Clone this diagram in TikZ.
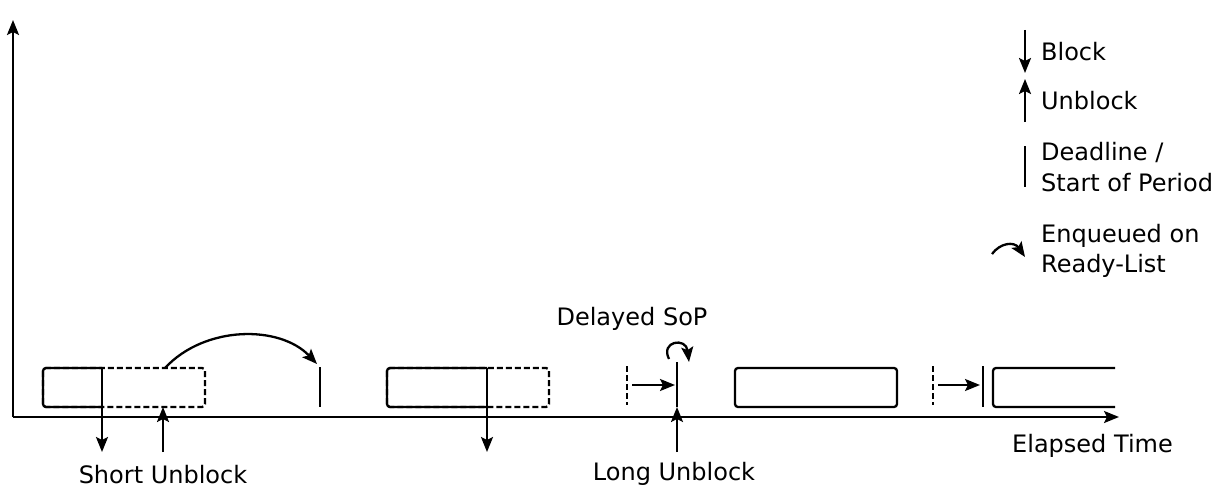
\documentclass[tikz,border=0pt]{standalone}
\usepackage{fontspec}
\setmainfont{DejaVu Sans}
\usetikzlibrary{arrows.meta}
\begin{document}
\begin{tikzpicture}[x=1pt,y=-1pt,
  line width=2.3pt,
  tip/.style={-{Stealth[length=15pt,width=12pt,inset=3pt]}},
  job/.style={rounded corners=3pt},
  slack/.style={rounded corners=3pt,dashed,dash pattern=on 6pt off 3pt},
  lbl/.style={font=\fontsize{24}{29}\selectfont,inner sep=0pt,anchor=base west},
  lblc/.style={font=\fontsize{24}{29}\selectfont,inner sep=0pt,anchor=base}]
\useasboundingbox (0,0) rectangle (1218,487);

% axes
\coordinate (origin) at (13,417);
\coordinate (ytop) at (13,20);
\coordinate (xend) at (1119,417);
\draw[tip] (origin) -- (ytop);
\draw[tip] (origin) -- (xend);
\node[lbl] (elapsed) at (1011,452) {Elapsed Time};

% first job: blocked early, unblocked shortly after
\draw[slack] (43,368) rectangle (205,407);
\draw[job] (102,368) -- (43,368) -- (43,407) -- (102,407);
\coordinate (b1a) at (102,368);
\coordinate (b1b) at (102,452);
\draw[tip] (b1a) -- (b1b);
\coordinate (u1a) at (163,452);
\coordinate (u1b) at (163,407);
\draw[tip] (u1a) -- (u1b);
\node[lblc] (shortub) at (163,483) {Short Unblock};

% re-enqueued until the next period
\coordinate (enqA) at (165,368);
\coordinate (enqB) at (317,364);
\draw[tip] (enqA) .. controls (205,325) and (280,325) .. (enqB);
\coordinate (dl1a) at (320,367);
\coordinate (dl1b) at (320,407);
\draw (dl1a) -- (dl1b);

% second job: blocked
\draw[slack] (387,368) rectangle (549,407);
\draw[job] (487,368) -- (387,368) -- (387,407) -- (487,407);
\coordinate (b2a) at (487,368);
\coordinate (b2b) at (487,452);
\draw[tip] (b2a) -- (b2b);

% long unblock with delayed start of period
\coordinate (d1a) at (627,366);
\coordinate (d1b) at (627,405);
\draw[dashed,dash pattern=on 6pt off 3pt] (d1a) -- (d1b);
\coordinate (s1a) at (632,385);
\coordinate (s1b) at (675,385);
\draw[tip] (s1a) -- (s1b);
\coordinate (sop1a) at (677,362);
\coordinate (sop1b) at (677,407);
\draw (sop1a) -- (sop1b);
\coordinate (u2a) at (677,452);
\coordinate (u2b) at (677,407);
\draw[tip] (u2a) -- (u2b);
\node[lblc] (longub) at (674,480) {Long Unblock};
\node[lblc] (delayed) at (632,325) {Delayed SoP};
\coordinate (loopA) at (669,359);
\coordinate (loopB) at (689,362);
\draw[tip] (loopA) .. controls (660,341) and (686,337) .. (loopB);

% third job
\draw[job] (735,368) rectangle (897,407);

% delayed start of the next period
\coordinate (d2a) at (933,366);
\coordinate (d2b) at (933,405);
\draw[dashed,dash pattern=on 6pt off 3pt] (d2a) -- (d2b);
\coordinate (s2a) at (938,385);
\coordinate (s2b) at (980,385);
\draw[tip] (s2a) -- (s2b);
\coordinate (sop2a) at (983,366);
\coordinate (sop2b) at (983,407);
\draw (sop2a) -- (sop2b);
\draw[job] (1115,368) -- (993,368) -- (993,407) -- (1115,407);

% legend
\coordinate (lbA) at (1025,30);
\coordinate (lbB) at (1025,73);
\draw[tip] (lbA) -- (lbB);
\node[lbl] (lgblock) at (1040,60) {Block};
\coordinate (luA) at (1025,122);
\coordinate (luB) at (1025,79);
\draw[tip] (luA) -- (luB);
\node[lbl] (lgunblock) at (1040,110) {Unblock};
\coordinate (ldA) at (1025,146);
\coordinate (ldB) at (1025,187);
\draw (ldA) -- (ldB);
\node[lbl] (lgdead) at (1040,160) {Deadline /};
\node[lbl] (lgsop) at (1040,191) {Start of Period};
\coordinate (leA) at (992,254);
\coordinate (leB) at (1025,257);
\draw[tip] (leA) .. controls (1000,243) and (1014,241) .. (leB);
\node[lbl] (lgenq) at (1040,242) {Enqueued on};
\node[lbl] (lgready) at (1040,272) {Ready-List};
\end{tikzpicture}
\end{document}
